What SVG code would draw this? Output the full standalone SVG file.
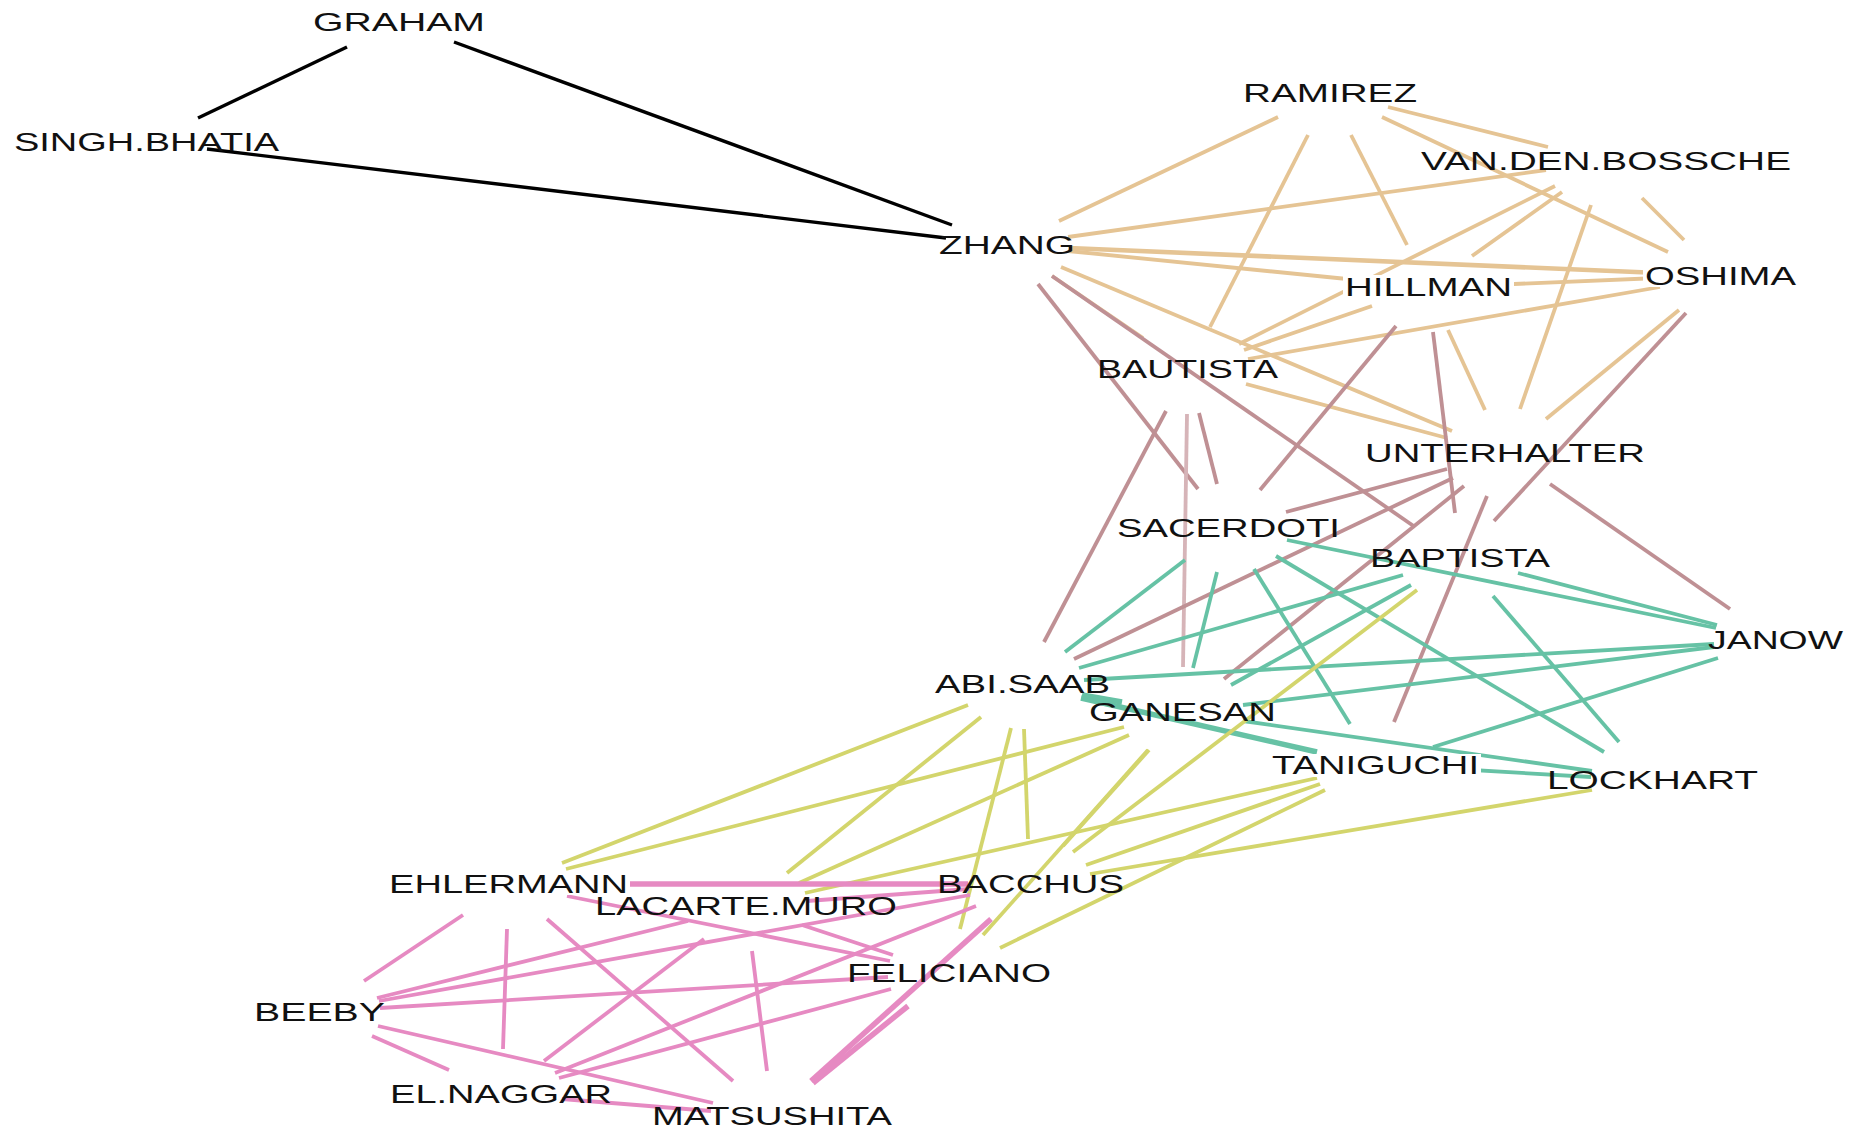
<svg xmlns="http://www.w3.org/2000/svg" width="1863" height="1128" viewBox="0 0 1863 1128">
<style>
line{stroke-width:3.8;stroke-linecap:butt;fill:none}
.k{stroke:#000;stroke-width:3.4}
.t{stroke:#E5C494}
.m{stroke:#BF9094}
.ml{stroke:#D6B4B8}
.g{stroke:#66C2A5}
.y{stroke:#D3D56C}
.p{stroke:#E68AC2}
.w{stroke-width:5.5}
.w2{stroke-width:4.6}
text{font-family:"Liberation Sans",Arial,sans-serif;font-size:26px;fill:#111}
.bg{fill:#fff}
</style>
<rect width="1863" height="1128" fill="#fff"/>
<g id="edges">
<line class="k" x1="347" y1="47" x2="198" y2="118"/>
<line class="k" x1="454" y1="42" x2="952" y2="225"/>
<line class="k" x1="207" y1="149" x2="946" y2="238"/>
<line class="t" x1="1059" y1="221" x2="1278" y2="117"/>
<line class="t" x1="1068" y1="237" x2="1546" y2="170"/>
<line class="t w2" x1="1069" y1="248" x2="1659" y2="273"/>
<line class="t" x1="1068" y1="251" x2="1367" y2="281"/>
<line class="t" x1="1061" y1="267" x2="1452" y2="431"/>
<line class="t" x1="1052" y1="276" x2="1143" y2="338"/>
<line class="t" x1="1308" y1="135" x2="1210" y2="327"/>
<line class="t" x1="1351" y1="135" x2="1407" y2="245"/>
<line class="t" x1="1388" y1="107" x2="1548" y2="147"/>
<line class="t" x1="1382" y1="117" x2="1668" y2="252"/>
<line class="t" x1="1642" y1="198" x2="1684" y2="240"/>
<line class="t" x1="1562" y1="192" x2="1472" y2="256"/>
<line class="t" x1="1591" y1="205" x2="1520" y2="409"/>
<line class="t" x1="1555" y1="186" x2="1239" y2="344"/>
<line class="t" x1="1490" y1="285" x2="1658" y2="278"/>
<line class="t" x1="1248" y1="359" x2="1660" y2="287"/>
<line class="t" x1="1546" y1="419" x2="1679" y2="310"/>
<line class="t" x1="1372" y1="306" x2="1244" y2="350"/>
<line class="t" x1="1448" y1="330" x2="1485" y2="410"/>
<line class="t" x1="1246" y1="384" x2="1447" y2="438"/>
<line class="m" x1="1052" y1="276" x2="1415" y2="527"/>
<line class="m" x1="1038" y1="284" x2="1198" y2="489"/>
<line class="m" x1="1166" y1="411" x2="1044" y2="642"/>
<line class="ml" x1="1187" y1="414" x2="1183" y2="667"/>
<line class="m" x1="1199" y1="413" x2="1217" y2="484"/>
<line class="m" x1="1396" y1="326" x2="1260" y2="490"/>
<line class="m" x1="1433" y1="332" x2="1455" y2="513"/>
<line class="m" x1="1686" y1="313" x2="1494" y2="521"/>
<line class="m" x1="1453" y1="478" x2="1074" y2="659"/>
<line class="m" x1="1464" y1="486" x2="1224" y2="679"/>
<line class="m" x1="1447" y1="469" x2="1286" y2="512"/>
<line class="m" x1="1487" y1="496" x2="1394" y2="722"/>
<line class="m" x1="1550" y1="484" x2="1730" y2="609"/>
<line class="g" x1="1065" y1="652" x2="1185" y2="560"/>
<line class="g" x1="1079" y1="668" x2="1403" y2="575"/>
<line class="g" x1="1193" y1="668" x2="1217" y2="572"/>
<line class="g" x1="1084" y1="680" x2="1714" y2="644"/>
<line class="g" x1="1254" y1="569" x2="1350" y2="724"/>
<line class="g" x1="1276" y1="556" x2="1604" y2="752"/>
<line class="g" x1="1231" y1="685" x2="1411" y2="585"/>
<line class="g" x1="1287" y1="540" x2="1716" y2="628"/>
<line class="g" x1="1518" y1="573" x2="1717" y2="625"/>
<line class="g" x1="1493" y1="596" x2="1619" y2="742"/>
<line class="g" x1="1243" y1="705" x2="1714" y2="647"/>
<line class="g" x1="1433" y1="747" x2="1718" y2="658"/>
<line class="g w" x1="1081" y1="698" x2="1317" y2="752"/>
<line class="g" x1="1243" y1="721" x2="1592" y2="771"/>
<line class="g" x1="1438" y1="768" x2="1591" y2="777"/>
<line class="g w" x1="1082" y1="695" x2="1122" y2="702"/>
<line class="y" x1="968" y1="705" x2="562" y2="863"/>
<line class="y" x1="1124" y1="727" x2="566" y2="869"/>
<line class="y" x1="981" y1="717" x2="787" y2="873"/>
<line class="y" x1="1011" y1="728" x2="960" y2="929"/>
<line class="y" x1="1024" y1="729" x2="1028" y2="839"/>
<line class="y" x1="1129" y1="735" x2="799" y2="883"/>
<line class="y" x1="1148" y1="750" x2="983" y2="935"/>
<line class="y" x1="1149" y1="750" x2="1063" y2="846"/>
<line class="y" x1="1417" y1="590" x2="1073" y2="852"/>
<line class="y" x1="1317" y1="778" x2="805" y2="893"/>
<line class="y" x1="1320" y1="784" x2="1086" y2="865"/>
<line class="y" x1="1325" y1="790" x2="1000" y2="948"/>
<line class="y" x1="1592" y1="790" x2="1090" y2="874"/>
<line class="p w" x1="570" y1="884" x2="968" y2="884"/>
<line class="p" x1="567" y1="896" x2="890" y2="961"/>
<line class="p" x1="463" y1="915" x2="364" y2="981"/>
<line class="p" x1="507" y1="929" x2="503" y2="1049"/>
<line class="p" x1="547" y1="919" x2="733" y2="1081"/>
<line class="p" x1="377" y1="998" x2="688" y2="921"/>
<line class="p" x1="379" y1="1001" x2="970" y2="895"/>
<line class="p" x1="380" y1="1008" x2="888" y2="977"/>
<line class="p" x1="378" y1="1026" x2="713" y2="1103"/>
<line class="p" x1="372" y1="1036" x2="449" y2="1070"/>
<line class="p" x1="704" y1="939" x2="544" y2="1061"/>
<line class="p" x1="976" y1="906" x2="555" y2="1073"/>
<line class="p" x1="891" y1="989" x2="559" y2="1078"/>
<line class="p" x1="562" y1="1099" x2="711" y2="1111"/>
<line class="p" x1="752" y1="951" x2="767" y2="1071"/>
<line class="p w" x1="991" y1="919" x2="811" y2="1081"/>
<line class="p w" x1="908" y1="1006" x2="813" y2="1083"/>
<line class="p" x1="807" y1="901" x2="969" y2="889"/>
<line class="p" x1="802" y1="925" x2="893" y2="955"/>
</g>
<g id="node-GRAHAM"><text x="313" y="31.4" textLength="172" lengthAdjust="spacingAndGlyphs">GRAHAM</text></g>
<g id="node-SINGH.BHATIA"><text x="14" y="151.4" textLength="265" lengthAdjust="spacingAndGlyphs">SINGH.BHATIA</text></g>
<g id="node-ZHANG"><text x="939" y="254.4" textLength="136" lengthAdjust="spacingAndGlyphs">ZHANG</text></g>
<g id="node-RAMIREZ"><text x="1243" y="102.4" textLength="174" lengthAdjust="spacingAndGlyphs">RAMIREZ</text></g>
<g id="node-VAN.DEN.BOSSCHE"><text x="1421" y="170.4" textLength="370" lengthAdjust="spacingAndGlyphs">VAN.DEN.BOSSCHE</text></g>
<g id="node-OSHIMA"><rect class="bg" x="1643" y="264" width="155" height="23"/><text x="1645" y="285.4" textLength="151" lengthAdjust="spacingAndGlyphs">OSHIMA</text></g>
<g id="node-HILLMAN"><rect class="bg" x="1343" y="275" width="171" height="23"/><text x="1345" y="296.4" textLength="167" lengthAdjust="spacingAndGlyphs">HILLMAN</text></g>
<g id="node-BAUTISTA"><text x="1097" y="378.4" textLength="181" lengthAdjust="spacingAndGlyphs">BAUTISTA</text></g>
<g id="node-UNTERHALTER"><text x="1365" y="462.4" textLength="280" lengthAdjust="spacingAndGlyphs">UNTERHALTER</text></g>
<g id="node-SACERDOTI"><text x="1117" y="537.4" textLength="223" lengthAdjust="spacingAndGlyphs">SACERDOTI</text></g>
<g id="node-BAPTISTA"><text x="1370" y="567.4" textLength="180" lengthAdjust="spacingAndGlyphs">BAPTISTA</text></g>
<g id="node-JANOW"><text x="1708" y="649.4" textLength="135" lengthAdjust="spacingAndGlyphs">JANOW</text></g>
<g id="node-ABI.SAAB"><text x="935" y="693.4" textLength="175" lengthAdjust="spacingAndGlyphs">ABI.SAAB</text></g>
<g id="node-GANESAN"><text x="1089" y="721.4" textLength="187" lengthAdjust="spacingAndGlyphs">GANESAN</text></g>
<g id="node-TANIGUCHI"><rect class="bg" x="1270" y="754" width="211" height="23"/><text x="1272" y="774.4" textLength="207" lengthAdjust="spacingAndGlyphs">TANIGUCHI</text></g>
<g id="node-LOCKHART"><text x="1547" y="789.4" textLength="211" lengthAdjust="spacingAndGlyphs">LOCKHART</text></g>
<g id="node-EHLERMANN"><rect class="bg" x="387" y="872" width="243" height="23"/><text x="389" y="893.4" textLength="239" lengthAdjust="spacingAndGlyphs">EHLERMANN</text></g>
<g id="node-BACCHUS"><text x="937" y="893.4" textLength="187" lengthAdjust="spacingAndGlyphs">BACCHUS</text></g>
<g id="node-LACARTE.MURO"><text x="595" y="915.4" textLength="302" lengthAdjust="spacingAndGlyphs">LACARTE.MURO</text></g>
<g id="node-FELICIANO"><text x="847" y="982.4" textLength="204" lengthAdjust="spacingAndGlyphs">FELICIANO</text></g>
<g id="node-BEEBY"><text x="254" y="1021.4" textLength="131" lengthAdjust="spacingAndGlyphs">BEEBY</text></g>
<g id="node-EL.NAGGAR"><text x="390" y="1103.4" textLength="222" lengthAdjust="spacingAndGlyphs">EL.NAGGAR</text></g>
<g id="node-MATSUSHITA"><text x="652" y="1125.4" textLength="240" lengthAdjust="spacingAndGlyphs">MATSUSHITA</text></g>
</svg>
